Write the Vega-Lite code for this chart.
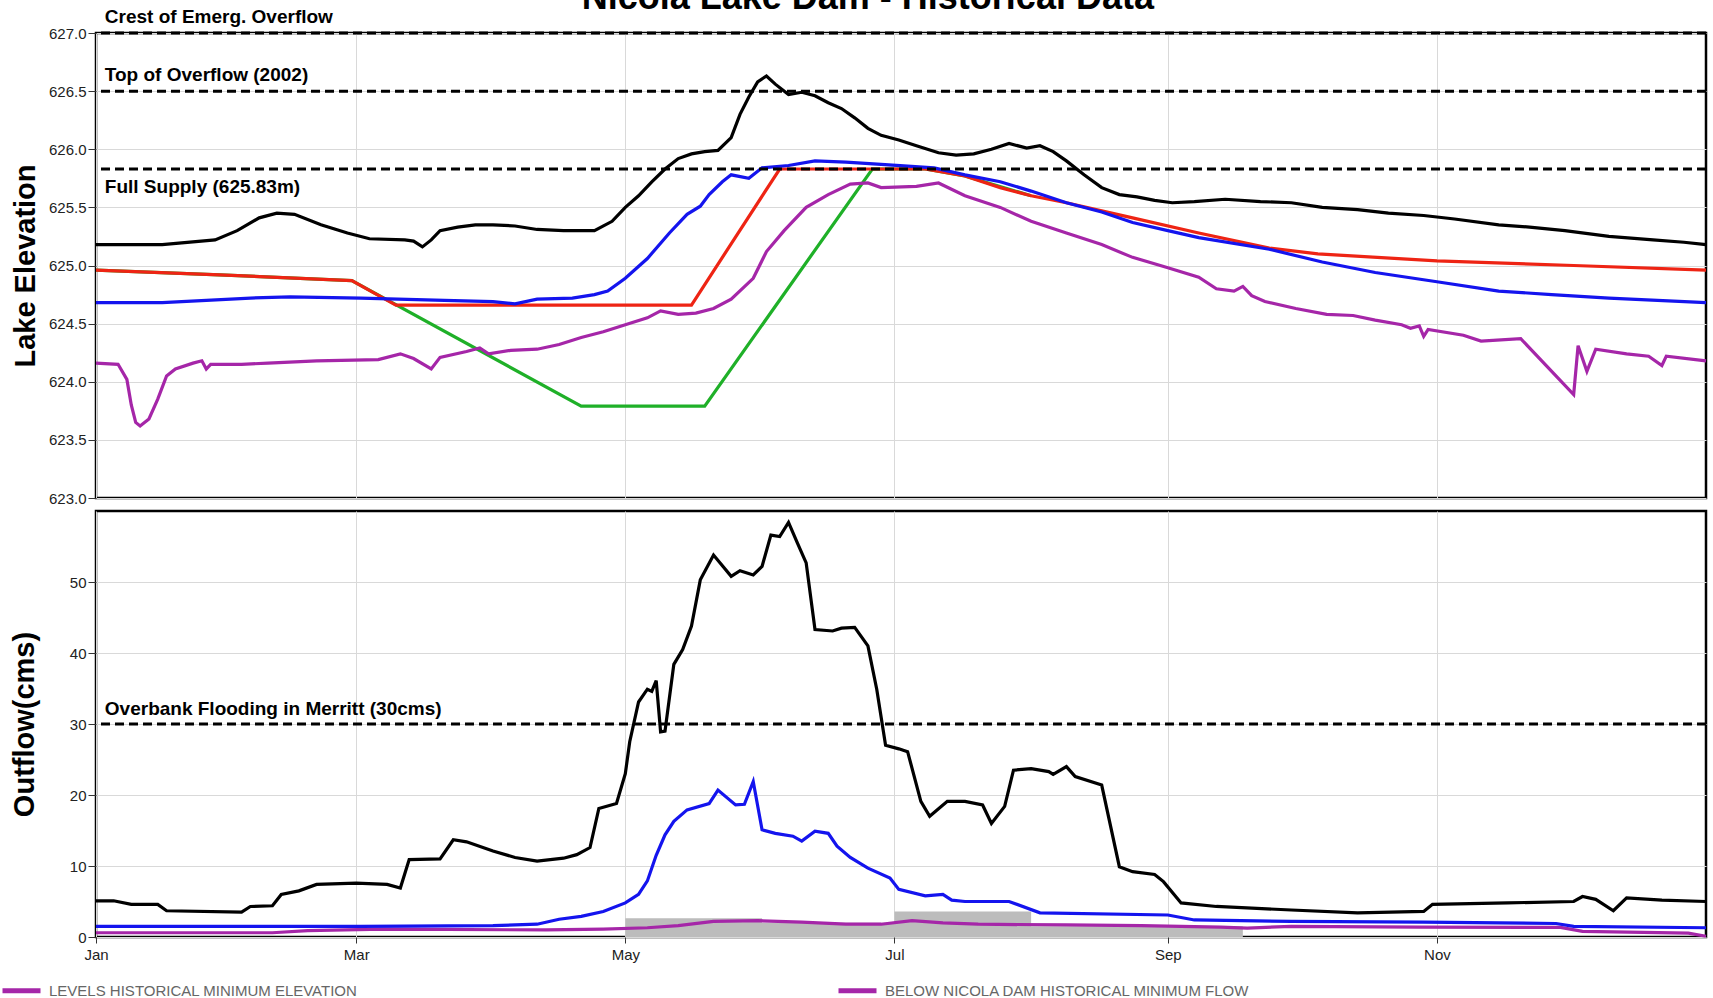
{
  "$schema": "https://vega.github.io/schema/vega-lite/v6.json",
  "padding": {"left": 0, "top": -21, "right": 6, "bottom": 0},
  "title": {"text": "Nicola Lake Dam - Historical Data", "fontSize": 36, "font": "Liberation Sans", "fontWeight": "bold", "color": "#000", "anchor": "middle", "offset": -10, "dx": 11},
  "spacing": 1,
  "resolve": {"scale": {"color": "shared"}, "legend": {"color": "shared"}},
  "datasets": {
    "elevMax": [
      {"d":"2021-01-01","v":625.18},{"d":"2021-01-16","v":625.18},{"d":"2021-01-28","v":625.22},{"d":"2021-02-02","v":625.30},{"d":"2021-02-07","v":625.41},{"d":"2021-02-11","v":625.45},{"d":"2021-02-15","v":625.44},{"d":"2021-02-21","v":625.35},{"d":"2021-02-27","v":625.28},{"d":"2021-03-04","v":625.23},{"d":"2021-03-12","v":625.22},{"d":"2021-03-14","v":625.21},{"d":"2021-03-16","v":625.16},{"d":"2021-03-18","v":625.22},{"d":"2021-03-20","v":625.30},{"d":"2021-03-24","v":625.33},{"d":"2021-03-28","v":625.35},{"d":"2021-04-01","v":625.35},{"d":"2021-04-06","v":625.34},{"d":"2021-04-11","v":625.31},{"d":"2021-04-17","v":625.30},{"d":"2021-04-24","v":625.30},{"d":"2021-04-28","v":625.38},{"d":"2021-05-01","v":625.50},{"d":"2021-05-04","v":625.60},{"d":"2021-05-07","v":625.72},{"d":"2021-05-10","v":625.83},{"d":"2021-05-13","v":625.92},{"d":"2021-05-16","v":625.96},{"d":"2021-05-19","v":625.98},{"d":"2021-05-22","v":625.99},{"d":"2021-05-25","v":626.10},{"d":"2021-05-27","v":626.30},{"d":"2021-05-29","v":626.45},{"d":"2021-05-31","v":626.58},{"d":"2021-06-02","v":626.63},{"d":"2021-06-04","v":626.56},{"d":"2021-06-07","v":626.47},{"d":"2021-06-10","v":626.49},{"d":"2021-06-13","v":626.46},{"d":"2021-06-16","v":626.40},{"d":"2021-06-19","v":626.35},{"d":"2021-06-22","v":626.27},{"d":"2021-06-25","v":626.18},{"d":"2021-06-28","v":626.12},{"d":"2021-07-02","v":626.08},{"d":"2021-07-06","v":626.03},{"d":"2021-07-11","v":625.97},{"d":"2021-07-15","v":625.95},{"d":"2021-07-19","v":625.96},{"d":"2021-07-23","v":626.00},{"d":"2021-07-27","v":626.05},{"d":"2021-07-31","v":626.01},{"d":"2021-08-03","v":626.03},{"d":"2021-08-06","v":625.98},{"d":"2021-08-09","v":625.90},{"d":"2021-08-13","v":625.78},{"d":"2021-08-17","v":625.67},{"d":"2021-08-21","v":625.61},{"d":"2021-08-25","v":625.59},{"d":"2021-08-29","v":625.56},{"d":"2021-09-02","v":625.54},{"d":"2021-09-07","v":625.55},{"d":"2021-09-14","v":625.57},{"d":"2021-09-22","v":625.55},{"d":"2021-09-29","v":625.54},{"d":"2021-10-06","v":625.50},{"d":"2021-10-14","v":625.48},{"d":"2021-10-21","v":625.45},{"d":"2021-10-29","v":625.43},{"d":"2021-11-05","v":625.40},{"d":"2021-11-15","v":625.35},{"d":"2021-11-22","v":625.33},{"d":"2021-11-30","v":625.30},{"d":"2021-12-10","v":625.25},{"d":"2021-12-20","v":625.22},{"d":"2021-12-27","v":625.20},{"d":"2022-01-01","v":625.18}
    ],
    "elevRule": [
      {"d":"2021-01-01","v":624.96},{"d":"2021-01-29","v":624.92},{"d":"2021-02-28","v":624.87},{"d":"2021-03-10","v":624.66},{"d":"2021-05-16","v":624.66},{"d":"2021-06-05","v":625.83},{"d":"2021-07-08","v":625.83},{"d":"2021-07-17","v":625.77},{"d":"2021-07-25","v":625.67},{"d":"2021-08-01","v":625.60},{"d":"2021-08-09","v":625.54},{"d":"2021-08-17","v":625.47},{"d":"2021-08-24","v":625.41},{"d":"2021-09-08","v":625.28},{"d":"2021-09-24","v":625.15},{"d":"2021-10-05","v":625.10},{"d":"2021-11-01","v":625.04},{"d":"2021-12-02","v":625.00},{"d":"2022-01-01","v":624.96}
    ],
    "elevLow": [
      {"d":"2021-01-01","v":624.96},{"d":"2021-01-29","v":624.92},{"d":"2021-02-28","v":624.87},{"d":"2021-04-21","v":623.79},{"d":"2021-05-19","v":623.79},{"d":"2021-06-26","v":625.83},{"d":"2021-07-08","v":625.83},{"d":"2021-07-17","v":625.77},{"d":"2021-08-01","v":625.60}
    ],
    "elevMed": [
      {"d":"2021-01-01","v":624.68},{"d":"2021-01-16","v":624.68},{"d":"2021-01-26","v":624.70},{"d":"2021-02-05","v":624.72},{"d":"2021-02-14","v":624.73},{"d":"2021-03-02","v":624.72},{"d":"2021-03-21","v":624.70},{"d":"2021-04-01","v":624.69},{"d":"2021-04-06","v":624.67},{"d":"2021-04-11","v":624.71},{"d":"2021-04-19","v":624.72},{"d":"2021-04-24","v":624.75},{"d":"2021-04-27","v":624.78},{"d":"2021-05-01","v":624.89},{"d":"2021-05-06","v":625.06},{"d":"2021-05-11","v":625.28},{"d":"2021-05-15","v":625.44},{"d":"2021-05-18","v":625.51},{"d":"2021-05-20","v":625.61},{"d":"2021-05-23","v":625.72},{"d":"2021-05-25","v":625.78},{"d":"2021-05-29","v":625.75},{"d":"2021-06-01","v":625.84},{"d":"2021-06-07","v":625.86},{"d":"2021-06-13","v":625.90},{"d":"2021-06-20","v":625.89},{"d":"2021-06-28","v":625.87},{"d":"2021-07-10","v":625.84},{"d":"2021-07-17","v":625.78},{"d":"2021-07-25","v":625.72},{"d":"2021-08-01","v":625.64},{"d":"2021-08-09","v":625.54},{"d":"2021-08-17","v":625.46},{"d":"2021-08-24","v":625.37},{"d":"2021-09-01","v":625.30},{"d":"2021-09-08","v":625.24},{"d":"2021-09-24","v":625.14},{"d":"2021-10-06","v":625.03},{"d":"2021-10-18","v":624.94},{"d":"2021-11-01","v":624.86},{"d":"2021-11-15","v":624.78},{"d":"2021-11-27","v":624.75},{"d":"2021-12-10","v":624.72},{"d":"2022-01-01","v":624.68}
    ],
    "elevMin": [
      {"d":"2021-01-01","v":624.16},{"d":"2021-01-06","v":624.15},{"d":"2021-01-08","v":624.02},{"d":"2021-01-09","v":623.80},{"d":"2021-01-10","v":623.65},{"d":"2021-01-11","v":623.62},{"d":"2021-01-13","v":623.68},{"d":"2021-01-15","v":623.85},{"d":"2021-01-17","v":624.05},{"d":"2021-01-19","v":624.11},{"d":"2021-01-23","v":624.16},{"d":"2021-01-25","v":624.18},{"d":"2021-01-26","v":624.11},{"d":"2021-01-27","v":624.15},{"d":"2021-02-03","v":624.15},{"d":"2021-02-09","v":624.16},{"d":"2021-02-20","v":624.18},{"d":"2021-03-06","v":624.19},{"d":"2021-03-11","v":624.24},{"d":"2021-03-14","v":624.20},{"d":"2021-03-18","v":624.11},{"d":"2021-03-20","v":624.21},{"d":"2021-03-26","v":624.26},{"d":"2021-03-29","v":624.29},{"d":"2021-03-31","v":624.24},{"d":"2021-04-05","v":624.27},{"d":"2021-04-11","v":624.28},{"d":"2021-04-16","v":624.32},{"d":"2021-04-21","v":624.38},{"d":"2021-04-26","v":624.43},{"d":"2021-05-01","v":624.49},{"d":"2021-05-06","v":624.55},{"d":"2021-05-09","v":624.61},{"d":"2021-05-13","v":624.58},{"d":"2021-05-17","v":624.59},{"d":"2021-05-21","v":624.63},{"d":"2021-05-25","v":624.71},{"d":"2021-05-30","v":624.89},{"d":"2021-06-02","v":625.12},{"d":"2021-06-06","v":625.30},{"d":"2021-06-11","v":625.50},{"d":"2021-06-16","v":625.61},{"d":"2021-06-21","v":625.70},{"d":"2021-06-25","v":625.71},{"d":"2021-06-28","v":625.67},{"d":"2021-07-06","v":625.68},{"d":"2021-07-11","v":625.71},{"d":"2021-07-17","v":625.60},{"d":"2021-07-25","v":625.50},{"d":"2021-08-01","v":625.38},{"d":"2021-08-09","v":625.28},{"d":"2021-08-17","v":625.18},{"d":"2021-08-24","v":625.07},{"d":"2021-09-01","v":624.98},{"d":"2021-09-08","v":624.90},{"d":"2021-09-12","v":624.80},{"d":"2021-09-16","v":624.78},{"d":"2021-09-18","v":624.82},{"d":"2021-09-20","v":624.74},{"d":"2021-09-23","v":624.69},{"d":"2021-09-30","v":624.63},{"d":"2021-10-07","v":624.58},{"d":"2021-10-13","v":624.57},{"d":"2021-10-18","v":624.53},{"d":"2021-10-24","v":624.49},{"d":"2021-10-26","v":624.46},{"d":"2021-10-28","v":624.48},{"d":"2021-10-29","v":624.39},{"d":"2021-10-30","v":624.45},{"d":"2021-11-07","v":624.40},{"d":"2021-11-11","v":624.35},{"d":"2021-11-20","v":624.37},{"d":"2021-12-02","v":623.89},{"d":"2021-12-03","v":624.31},{"d":"2021-12-05","v":624.09},{"d":"2021-12-07","v":624.28},{"d":"2021-12-14","v":624.24},{"d":"2021-12-19","v":624.22},{"d":"2021-12-22","v":624.14},{"d":"2021-12-23","v":624.22},{"d":"2022-01-01","v":624.18}
    ],
    "flowMax": [
      {"d":"2021-01-01","v":5.1},{"d":"2021-01-05","v":5.1},{"d":"2021-01-09","v":4.6},{"d":"2021-01-15","v":4.6},{"d":"2021-01-17","v":3.7},{"d":"2021-02-03","v":3.5},{"d":"2021-02-05","v":4.3},{"d":"2021-02-10","v":4.4},{"d":"2021-02-12","v":6.0},{"d":"2021-02-16","v":6.5},{"d":"2021-02-20","v":7.4},{"d":"2021-03-01","v":7.6},{"d":"2021-03-08","v":7.4},{"d":"2021-03-11","v":6.9},{"d":"2021-03-13","v":10.9},{"d":"2021-03-20","v":11.0},{"d":"2021-03-23","v":13.7},{"d":"2021-03-26","v":13.4},{"d":"2021-04-01","v":12.1},{"d":"2021-04-06","v":11.2},{"d":"2021-04-11","v":10.7},{"d":"2021-04-17","v":11.1},{"d":"2021-04-20","v":11.6},{"d":"2021-04-23","v":12.6},{"d":"2021-04-25","v":18.1},{"d":"2021-04-29","v":18.8},{"d":"2021-05-01","v":23.0},{"d":"2021-05-02","v":27.5},{"d":"2021-05-04","v":33.1},{"d":"2021-05-06","v":34.9},{"d":"2021-05-07","v":34.6},{"d":"2021-05-08","v":36.1},{"d":"2021-05-09","v":28.9},{"d":"2021-05-10","v":29.0},{"d":"2021-05-12","v":38.4},{"d":"2021-05-14","v":40.5},{"d":"2021-05-16","v":43.8},{"d":"2021-05-18","v":50.3},{"d":"2021-05-21","v":53.8},{"d":"2021-05-25","v":50.8},{"d":"2021-05-27","v":51.6},{"d":"2021-05-30","v":51.0},{"d":"2021-06-01","v":52.2},{"d":"2021-06-03","v":56.6},{"d":"2021-06-05","v":56.4},{"d":"2021-06-07","v":58.4},{"d":"2021-06-09","v":55.5},{"d":"2021-06-11","v":52.7},{"d":"2021-06-13","v":43.3},{"d":"2021-06-17","v":43.1},{"d":"2021-06-19","v":43.5},{"d":"2021-06-22","v":43.6},{"d":"2021-06-25","v":41.0},{"d":"2021-06-27","v":34.9},{"d":"2021-06-29","v":27.0},{"d":"2021-07-02","v":26.5},{"d":"2021-07-04","v":26.1},{"d":"2021-07-07","v":19.1},{"d":"2021-07-09","v":17.0},{"d":"2021-07-13","v":19.1},{"d":"2021-07-17","v":19.1},{"d":"2021-07-21","v":18.6},{"d":"2021-07-23","v":16.0},{"d":"2021-07-26","v":18.4},{"d":"2021-07-28","v":23.5},{"d":"2021-08-01","v":23.7},{"d":"2021-08-05","v":23.3},{"d":"2021-08-06","v":22.9},{"d":"2021-08-09","v":24.0},{"d":"2021-08-11","v":22.6},{"d":"2021-08-17","v":21.4},{"d":"2021-08-21","v":9.9},{"d":"2021-08-24","v":9.2},{"d":"2021-08-29","v":8.8},{"d":"2021-08-31","v":7.8},{"d":"2021-09-04","v":4.8},{"d":"2021-09-12","v":4.3},{"d":"2021-09-29","v":3.8},{"d":"2021-10-14","v":3.4},{"d":"2021-10-29","v":3.6},{"d":"2021-10-31","v":4.6},{"d":"2021-11-17","v":4.8},{"d":"2021-12-02","v":5.0},{"d":"2021-12-04","v":5.7},{"d":"2021-12-07","v":5.3},{"d":"2021-12-11","v":3.7},{"d":"2021-12-14","v":5.5},{"d":"2021-12-22","v":5.2},{"d":"2022-01-01","v":5.0}
    ],
    "flowMed": [
      {"d":"2021-01-01","v":1.5},{"d":"2021-03-02","v":1.5},{"d":"2021-04-01","v":1.6},{"d":"2021-04-11","v":1.8},{"d":"2021-04-16","v":2.5},{"d":"2021-04-21","v":2.9},{"d":"2021-04-26","v":3.6},{"d":"2021-05-01","v":4.8},{"d":"2021-05-04","v":6.0},{"d":"2021-05-06","v":7.9},{"d":"2021-05-08","v":11.5},{"d":"2021-05-10","v":14.4},{"d":"2021-05-12","v":16.3},{"d":"2021-05-15","v":17.9},{"d":"2021-05-20","v":18.8},{"d":"2021-05-22","v":20.7},{"d":"2021-05-26","v":18.6},{"d":"2021-05-28","v":18.7},{"d":"2021-05-30","v":21.9},{"d":"2021-06-01","v":15.1},{"d":"2021-06-04","v":14.6},{"d":"2021-06-08","v":14.2},{"d":"2021-06-10","v":13.5},{"d":"2021-06-13","v":14.9},{"d":"2021-06-16","v":14.6},{"d":"2021-06-18","v":12.8},{"d":"2021-06-21","v":11.2},{"d":"2021-06-25","v":9.7},{"d":"2021-06-30","v":8.3},{"d":"2021-07-02","v":6.7},{"d":"2021-07-08","v":5.8},{"d":"2021-07-12","v":6.0},{"d":"2021-07-14","v":5.2},{"d":"2021-07-17","v":5.0},{"d":"2021-07-27","v":5.0},{"d":"2021-08-03","v":3.4},{"d":"2021-09-01","v":3.1},{"d":"2021-09-07","v":2.4},{"d":"2021-09-29","v":2.2},{"d":"2021-10-29","v":2.1},{"d":"2021-11-28","v":1.9},{"d":"2021-12-02","v":1.5},{"d":"2022-01-01","v":1.3}
    ],
    "flowMin": [
      {"d":"2021-01-01","v":0.6},{"d":"2021-02-10","v":0.6},{"d":"2021-02-18","v":0.9},{"d":"2021-03-07","v":1.1},{"d":"2021-04-13","v":1.0},{"d":"2021-04-26","v":1.1},{"d":"2021-05-06","v":1.3},{"d":"2021-05-13","v":1.6},{"d":"2021-05-21","v":2.2},{"d":"2021-05-31","v":2.3},{"d":"2021-06-10","v":2.1},{"d":"2021-06-20","v":1.8},{"d":"2021-06-28","v":1.8},{"d":"2021-07-05","v":2.3},{"d":"2021-07-12","v":2.0},{"d":"2021-07-20","v":1.8},{"d":"2021-08-09","v":1.7},{"d":"2021-08-26","v":1.6},{"d":"2021-09-13","v":1.4},{"d":"2021-09-19","v":1.25},{"d":"2021-09-29","v":1.5},{"d":"2021-10-28","v":1.4},{"d":"2021-11-29","v":1.35},{"d":"2021-12-04","v":0.8},{"d":"2021-12-28","v":0.55},{"d":"2022-01-01","v":0.1}
    ],
    "flowReq": [
      {"d":"2021-05-01","v":2.65},{"d":"2021-06-01","v":2.0},{"d":"2021-07-01","v":3.6},{"d":"2021-08-01","v":1.5},{"d":"2021-09-18","v":0}
    ],
    "refTop": [
      {"d":"2021-01-03","v":627.0,"label":"Crest of Emerg. Overflow","pos":"above"},
      {"d":"2021-01-03","v":626.5,"label":"Top of Overflow (2002)","pos":"above"},
      {"d":"2021-01-03","v":625.83,"label":"Full Supply (625.83m)","pos":"below"}
    ],
    "refBottom": [
      {"d":"2021-01-03","v":30,"label":"Overbank Flooding in Merritt (30cms)","pos":"above"}
    ]
  },
  "vconcat": [
    {
      "width": 1610,
      "height": 465,
      "encoding": {
        "x": {"field": "d", "type": "temporal",
          "scale": {"type": "utc", "domain": [{"year": 2021, "month": 1, "date": 1, "utc": true}, {"year": 2022, "month": 1, "date": 1, "utc": true}]},
          "axis": {"title": null, "labels": false, "ticks": false, "domain": false,
            "values": [{"year": 2021, "month": 1, "date": 1, "utc": true}, {"year": 2021, "month": 3, "date": 1, "utc": true}, {"year": 2021, "month": 5, "date": 1, "utc": true}, {"year": 2021, "month": 7, "date": 1, "utc": true}, {"year": 2021, "month": 9, "date": 1, "utc": true}, {"year": 2021, "month": 11, "date": 1, "utc": true}]}},
        "y": {"field": "v", "type": "quantitative",
          "scale": {"domain": [623, 627], "zero": false, "nice": false},
          "axis": {"title": "Lake Elevation", "values": [623, 623.5, 624, 624.5, 625, 625.5, 626, 626.5, 627], "format": ".1f", "titlePadding": 8}}
      },
      "layer": [
        {"data": {"name": "elevLow"}, "mark": {"type": "line", "stroke": "#1fb028", "strokeWidth": 3.2}},
        {"data": {"name": "elevRule"}, "mark": {"type": "line", "stroke": "#ee2414", "strokeWidth": 3.2}},
        {"data": {"name": "elevMed"}, "mark": {"type": "line", "stroke": "#1414ee", "strokeWidth": 3.2}},
        {"data": {"name": "elevMin"}, "mark": {"type": "line", "strokeWidth": 3.2},
          "encoding": {"color": {"datum": "LEVELS HISTORICAL MINIMUM ELEVATION", "type": "nominal",
            "scale": {"domain": ["LEVELS HISTORICAL MINIMUM ELEVATION", "BELOW NICOLA DAM HISTORICAL MINIMUM FLOW"], "range": ["#a526a8", "#a526a8"]}}}},
        {"data": {"name": "elevMax"}, "mark": {"type": "line", "stroke": "#000000", "strokeWidth": 3.2}},
        {"data": {"name": "refTop"}, "mark": {"type": "rule", "stroke": "#000", "strokeWidth": 3, "strokeDash": [9, 5]},
          "encoding": {"x": null, "y": {"field": "v", "type": "quantitative"}}},
        {"data": {"name": "refTop"}, "transform": [{"filter": "datum.pos === 'above'"}],
          "mark": {"type": "text", "align": "left", "baseline": "middle", "dy": -16, "fontSize": 19, "fontWeight": "bold", "font": "Liberation Sans", "color": "#000"},
          "encoding": {"text": {"field": "label"}}},
        {"data": {"name": "refTop"}, "transform": [{"filter": "datum.pos === 'below'"}],
          "mark": {"type": "text", "align": "left", "baseline": "middle", "dy": 18, "fontSize": 19, "fontWeight": "bold", "font": "Liberation Sans", "color": "#000"},
          "encoding": {"text": {"field": "label"}}}
      ]
    },
    {
      "width": 1610,
      "height": 426,
      "encoding": {
        "x": {"field": "d", "type": "temporal",
          "scale": {"type": "utc", "domain": [{"year": 2021, "month": 1, "date": 1, "utc": true}, {"year": 2022, "month": 1, "date": 1, "utc": true}]},
          "axis": {"title": null, "format": "%b", "labelFlush": false, "domain": false, "tickSize": 6, "labelPadding": 4,
            "values": [{"year": 2021, "month": 1, "date": 1, "utc": true}, {"year": 2021, "month": 3, "date": 1, "utc": true}, {"year": 2021, "month": 5, "date": 1, "utc": true}, {"year": 2021, "month": 7, "date": 1, "utc": true}, {"year": 2021, "month": 9, "date": 1, "utc": true}, {"year": 2021, "month": 11, "date": 1, "utc": true}]}},
        "y": {"field": "v", "type": "quantitative",
          "scale": {"domain": [0, 60], "nice": false},
          "axis": {"title": "Outflow(cms)", "values": [0, 10, 20, 30, 40, 50], "titlePadding": 30}}
      },
      "layer": [
        {"data": {"name": "flowReq"}, "mark": {"type": "area", "interpolate": "step-after", "fill": "#bcbcbc"}},
        {"data": {"name": "flowMin"}, "mark": {"type": "line", "strokeWidth": 3.2},
          "encoding": {"color": {"datum": "BELOW NICOLA DAM HISTORICAL MINIMUM FLOW", "type": "nominal",
            "scale": {"domain": ["LEVELS HISTORICAL MINIMUM ELEVATION", "BELOW NICOLA DAM HISTORICAL MINIMUM FLOW"], "range": ["#a526a8", "#a526a8"]}}}},
        {"data": {"name": "flowMed"}, "mark": {"type": "line", "stroke": "#1414ee", "strokeWidth": 3.2}},
        {"data": {"name": "flowMax"}, "mark": {"type": "line", "stroke": "#000000", "strokeWidth": 3.2}},
        {"data": {"name": "refBottom"}, "mark": {"type": "rule", "stroke": "#000", "strokeWidth": 3, "strokeDash": [9, 5]},
          "encoding": {"x": null, "y": {"field": "v", "type": "quantitative"}}},
        {"data": {"name": "refBottom"},
          "mark": {"type": "text", "align": "left", "baseline": "middle", "dy": -15, "fontSize": 19, "fontWeight": "bold", "font": "Liberation Sans", "color": "#000"},
          "encoding": {"text": {"field": "label"}}}
      ]
    }
  ],
  "config": {
    "font": "Liberation Sans",
    "view": {"stroke": "#000", "strokeWidth": 2.5},
    "axis": {"gridColor": "#d9d9d9", "gridWidth": 1, "domain": false, "tickColor": "#333", "tickSize": 8, "labelPadding": 2,
      "labelFont": "Liberation Sans Narrow, Liberation Sans", "labelFontSize": 15, "labelColor": "#222",
      "titleFont": "Liberation Sans", "titleFontSize": 29, "titleFontWeight": "bold", "titleColor": "#000"},
    "legend": {"orient": "none", "legendX": -96, "legendY": 936, "direction": "horizontal", "title": null,
      "symbolType": "stroke", "symbolStrokeWidth": 5, "symbolSize": 1444, "labelOffset": 6,
      "labelFont": "Liberation Sans", "labelFontSize": 15, "labelColor": "#666", "labelLimit": 800, "columnPadding": 470}
  }
}
